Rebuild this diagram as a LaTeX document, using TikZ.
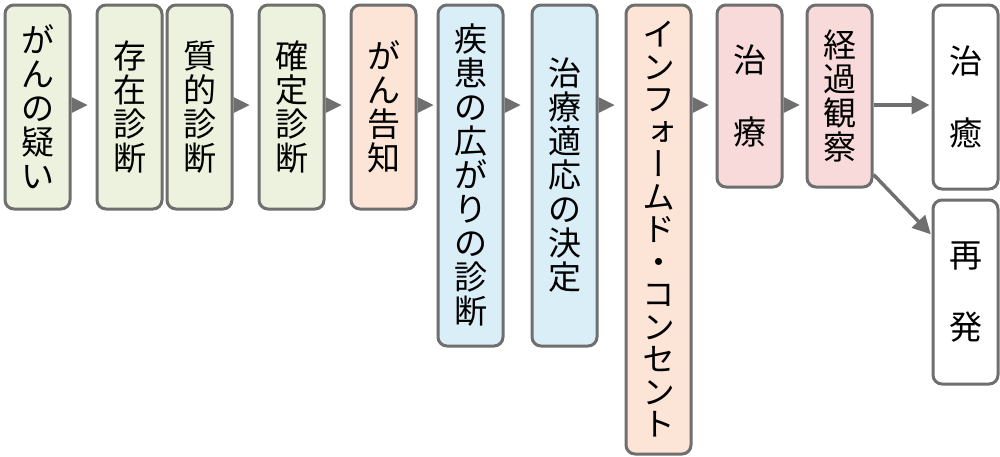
\documentclass[tikz,border=0pt]{standalone}
\usepackage{fontspec}
\newfontfamily\jp{Noto Sans CJK JP}
\newfontfamily\jpv[RawFeature=+vert]{Noto Sans CJK JP}
\usetikzlibrary{arrows.meta}
\definecolor{bordc}{HTML}{6F6F6F}
\definecolor{gr}{HTML}{EDF2DE}
\definecolor{pe}{HTML}{FCE4D6}
\definecolor{bl}{HTML}{DAEEF8}
\definecolor{pk}{HTML}{F8DADA}
\tikzset{
  box/.style={draw=bordc, line width=3pt, rounded corners=9pt, anchor=north west,
    inner sep=0pt, align=center, minimum width=65, font=\jp\fontsize{33}{34}\selectfont, text=black},
  tri/.style={fill=bordc},
  conn/.style={draw=bordc, line width=3.5pt, -{Triangle[length=18pt,width=18pt]}}
}
\begin{document}
\begin{tikzpicture}[x=1pt,y=-1pt]
\useasboundingbox (0,0) rectangle (1000,456);
\node[box, fill=gr, minimum height=204] (b1) at (3.5,3.5) {が\\ん\\の\\疑\\い};
\node[box, fill=gr, minimum height=204] (b2) at (95.5,3.5) {存\\在\\診\\断};
\node[box, fill=gr, minimum height=204] (b3) at (165.5,3.5) {質\\的\\診\\断};
\node[box, fill=gr, minimum height=204] (b4) at (257.5,3.5) {確\\定\\診\\断};
\node[box, fill=pe, minimum height=204] (b5) at (349.5,3.5) {が\\ん\\告\\知};
\node[box, fill=bl, minimum height=341] (b6) at (436.5,3.5) {疾\\患\\の\\広\\が\\り\\の\\診\\断};
\node[box, fill=bl, minimum height=341] (b7) at (530.5,3.5) {治\\療\\適\\応\\の\\決\\定};
\node[box, fill=pe, minimum height=449, font=\jpv\fontsize{33}{32.5}\selectfont] (b8) at (624.5,3.5)
  {イ\\ン\\フ\\ォ\\ー\\ム\\ド\\・\\コ\\ン\\セ\\ン\\ト};
\node[box, fill=pk, minimum height=182] (b9) at (715.5,3.5) {治\\[38pt]療};
\node[box, fill=pk, minimum height=182] (b10) at (805.5,3.5) {経\\過\\観\\察};
\node[box, fill=white, minimum height=184] (b11) at (931.5,3.5) {治\\[38pt]癒};
\node[box, fill=white, minimum height=184] (b12) at (931.5,198.5) {再\\[38pt]発};
\foreach \s in {b1,b3,b4,b5,b6,b7,b8,b9}{
  \path (\s.east |- 0,105) coordinate (a\s);
  \fill[tri] (a\s) ++(0,-8) -- ++(16,8) -- ++(-16,8) -- cycle;
}
\draw[conn, shorten >=2pt] (b10.east |- 0,105) -- (b11.west |- 0,105);
\draw[conn, shorten >=1pt] ([yshift=14pt]b10.south east) -- (b12.west |- 0,235);
\end{tikzpicture}
\end{document}
